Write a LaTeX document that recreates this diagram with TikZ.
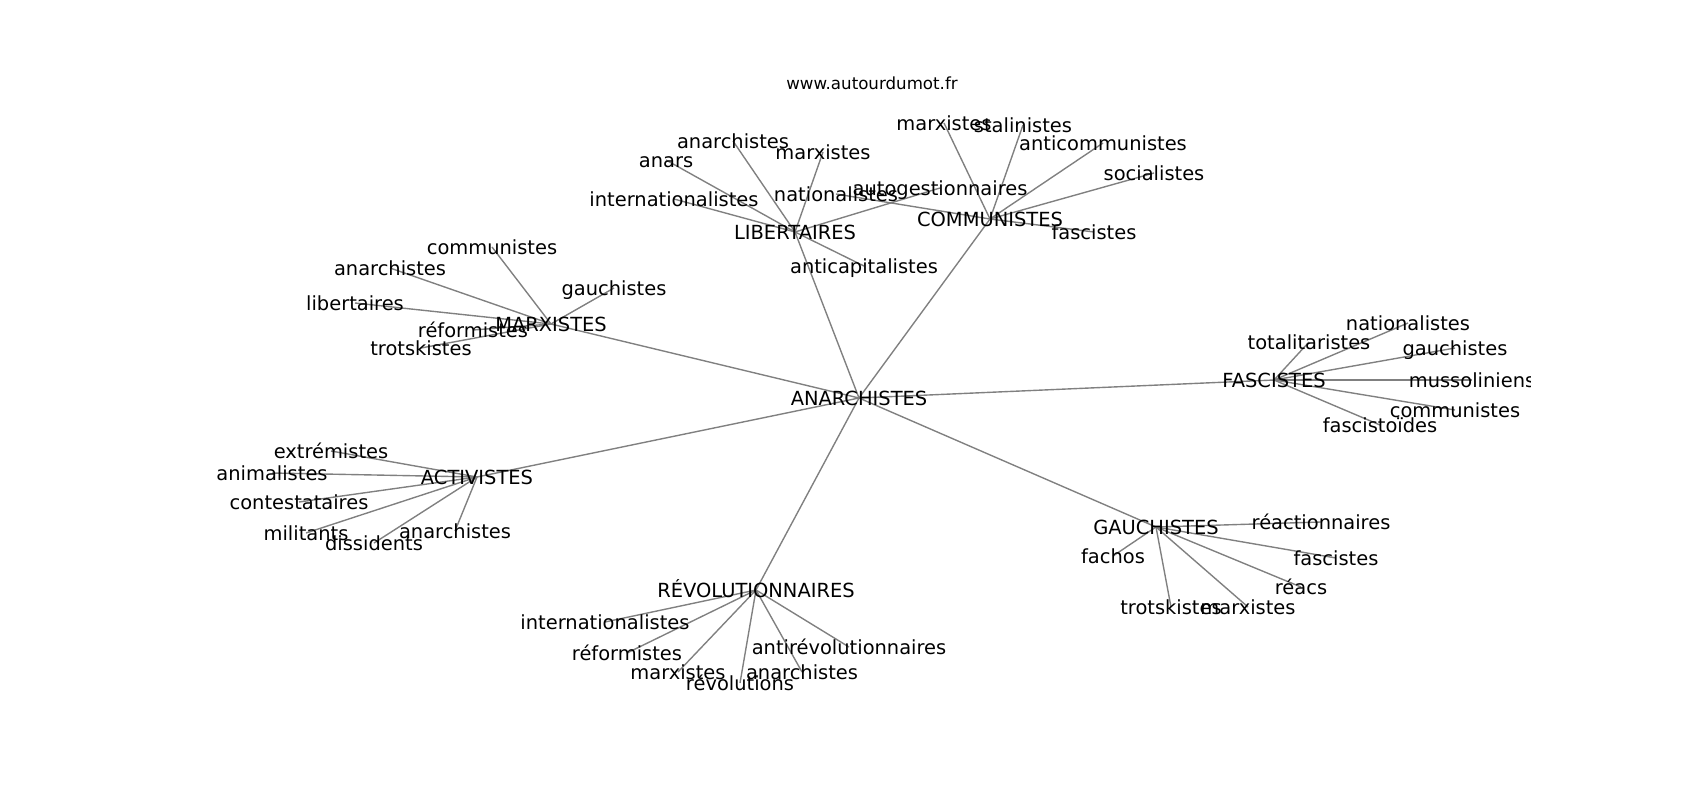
\documentclass[tikz,border=0pt]{standalone}
\usepackage{fontspec}
\setmainfont{DejaVu Sans}
\usetikzlibrary{backgrounds}
\definecolor{edgegray}{HTML}{808080}
\newcommand{\lblfont}{\fontsize{14bp}{17bp}\selectfont}
\newcommand{\ttlfont}{\fontsize{12bp}{14bp}\selectfont}
\tikzset{
  lab/.style={font=\lblfont, inner sep=0pt, outer sep=0pt, text height=10.7bp, text depth=0pt, anchor=center},
  ttl/.style={font=\ttlfont, inner sep=0pt, text height=9.1bp, text depth=0pt, anchor=center},
  edge/.style={draw=edgegray, line width=1bp}
}
\begin{document}
\begin{tikzpicture}[x=0.72bp, y=-0.72bp]
\useasboundingbox (0,0) rectangle (1700,800);
\node[ttl] (title) at (872,83) {www.autourdumot.fr};
\begin{scope}
\clip (212,96) rectangle (1530,712);
% hubs
\node[lab] (ANA) at (859,398) {ANARCHISTES};
\node[lab] (LIB) at (795,232) {LIBERTAIRES};
\node[lab] (COM) at (990,219) {COMMUNISTES};
\node[lab] (MAR) at (551,324) {MARXISTES};
\node[lab] (FAS) at (1274,380) {FASCISTES};
\node[lab] (ACT) at (477,477) {ACTIVISTES};
\node[lab] (GAU) at (1156,527) {GAUCHISTES};
\node[lab] (REV) at (756,590) {RÉVOLUTIONNAIRES};
% libertaires
\node[lab] (l1) at (733,141) {anarchistes};
\node[lab] (l2) at (823,152) {marxistes};
\node[lab] (l3) at (666,160) {anars};
\node[lab] (l4) at (674,199) {internationalistes};
\node[lab] (l5) at (940,188) {autogestionnaires};
\node[lab] (l6) at (864,266) {anticapitalistes};
% communistes
\node[lab] (c1) at (944,123) {marxistes};
\node[lab] (c2) at (1023,125) {stalinistes};
\node[lab] (c3) at (1103,143) {anticommunistes};
\node[lab] (c4) at (1154,173) {socialistes};
\node[lab] (c5) at (1094,232) {fascistes};
\node[lab] (c6) at (836,194) {nationalistes};
% marxistes
\node[lab] (m1) at (492,247) {communistes};
\node[lab] (m2) at (390,268) {anarchistes};
\node[lab] (m3) at (614,288) {gauchistes};
\node[lab] (m4) at (355,303) {libertaires};
\node[lab] (m5) at (473,330) {réformistes};
\node[lab] (m6) at (421,348) {trotskistes};
% activistes
\node[lab] (a1) at (331,451) {extrémistes};
\node[lab] (a2) at (272,473) {animalistes};
\node[lab] (a3) at (299,502) {contestataires};
\node[lab] (a4) at (306,533) {militants};
\node[lab] (a5) at (374,543) {dissidents};
\node[lab] (a6) at (455,531) {anarchistes};
% revolutionnaires
\node[lab] (r1) at (605,622) {internationalistes};
\node[lab] (r2) at (627,653) {réformistes};
\node[lab] (r3) at (678,672) {marxistes};
\node[lab] (r4) at (740,683) {révolutions};
\node[lab] (r5) at (849,647) {antirévolutionnaires};
\node[lab] (r6) at (802,672) {anarchistes};
% gauchistes
\node[lab] (g1) at (1321,522) {réactionnaires};
\node[lab] (g2) at (1113,556) {fachos};
\node[lab] (g3) at (1336,558) {fascistes};
\node[lab] (g4) at (1301,587) {réacs};
\node[lab] (g5) at (1171,607) {trotskistes};
\node[lab] (g6) at (1248,607) {marxistes};
% fascistes
\node[lab] (f1) at (1408,323) {nationalistes};
\node[lab] (f2) at (1309,342) {totalitaristes};
\node[lab] (f3) at (1455,348) {gauchistes};
\node[lab] (f4) at (1472,380) {mussoliniens};
\node[lab] (f5) at (1455,410) {communistes};
\node[lab] (f6) at (1380,425) {fascistoïdes};
\end{scope}
\begin{scope}[on background layer]
\foreach \h in {LIB,COM,MAR,FAS,ACT,GAU,REV}
  \draw[edge] (ANA.center) -- (\h.center);
\foreach \c in {l1,l2,l3,l4,l5,l6}
  \draw[edge] (LIB.center) -- (\c.center);
\foreach \c in {c1,c2,c3,c4,c5,c6}
  \draw[edge] (COM.center) -- (\c.center);
\foreach \c in {m1,m2,m3,m4,m5,m6}
  \draw[edge] (MAR.center) -- (\c.center);
\foreach \c in {a1,a2,a3,a4,a5,a6}
  \draw[edge] (ACT.center) -- (\c.center);
\foreach \c in {r1,r2,r3,r4,r5,r6}
  \draw[edge] (REV.center) -- (\c.center);
\foreach \c in {g1,g2,g3,g4,g5,g6}
  \draw[edge] (GAU.center) -- (\c.center);
\foreach \c in {f1,f2,f3,f4,f5,f6}
  \draw[edge] (FAS.center) -- (\c.center);
\end{scope}
\end{tikzpicture}
\end{document}
